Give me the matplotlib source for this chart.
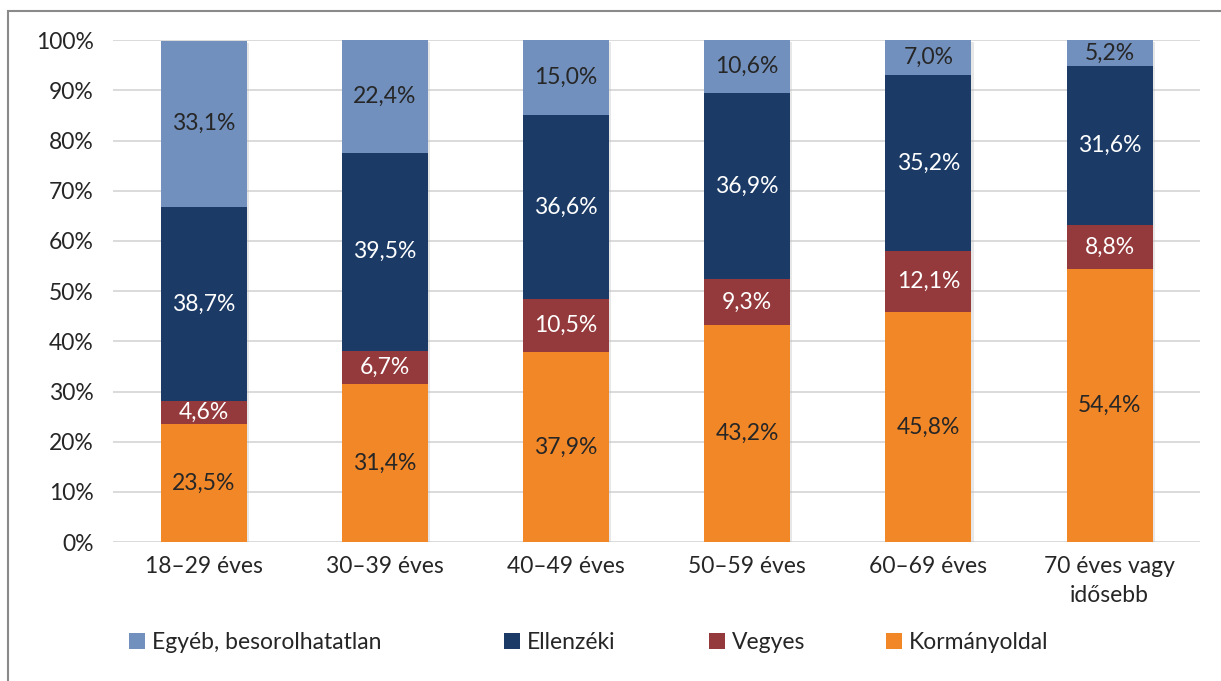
import matplotlib
matplotlib.use("Agg")
import matplotlib.pyplot as plt
from matplotlib.patches import Rectangle
import numpy as np

plt.rcParams['font.family'] = ['Lato', 'DejaVu Sans']

categories = ["18–29 éves", "30–39 éves", "40–49 éves", "50–59 éves", "60–69 éves", "70 éves vagy\nidősebb"]
kormany = [23.5, 31.4, 37.9, 43.2, 45.8, 54.4]
vegyes = [4.6, 6.7, 10.5, 9.3, 12.1, 8.8]
ellenzeki = [38.7, 39.5, 36.6, 36.9, 35.2, 31.6]
egyeb = [33.1, 22.4, 15.0, 10.6, 7.0, 5.2]

series = [
    ("Kormányoldal", kormany, "#F28728", "#262626"),
    ("Vegyes", vegyes, "#953A3C", "white"),
    ("Ellenzéki", ellenzeki, "#1B3A65", "white"),
    ("Egyéb, besorolhatatlan", egyeb, "#7190BD", "#262626"),
]

FS = 16.5
fig = plt.figure(figsize=(12.21, 6.81), dpi=100)
ax = fig.add_axes([0.0925, 0.204, 0.8905, 0.737])

x = np.arange(len(categories))
width = 0.475
bottom = np.zeros(len(categories))
handles = {}
for name, vals, color, tcolor in series:
    vals = np.array(vals)
    ax.bar(x + 0.012, vals, width, bottom=bottom - 0.4, color="#bdbdbd", alpha=0.35, zorder=2, linewidth=0)
    bars = ax.bar(x, vals, width, bottom=bottom, color=color, zorder=3, linewidth=0, label=name)
    handles[name] = bars
    for xi, b, v in zip(x, bottom, vals):
        ax.text(xi, b + v / 2, f"{v:.1f}%".replace(".", ","), ha="center", va="center",
                color=tcolor, fontsize=FS, zorder=4)
    bottom = bottom + vals

ax.set_xlim(-0.5, len(categories) - 0.5)
ax.set_ylim(0, 100)
ax.set_yticks(np.arange(0, 101, 10))
ax.set_yticklabels([f"{v}%" for v in range(0, 101, 10)], fontsize=FS, color="#262626")
ax.set_xticks(x)
ax.set_xticklabels(categories, fontsize=FS, color="#262626", linespacing=1.45)
ax.tick_params(axis="both", length=0)
ax.tick_params(axis="x", pad=10)
ax.tick_params(axis="y", pad=14)
ax.yaxis.grid(True, color="#d4d4d4", linewidth=1.2, zorder=0)
ax.set_axisbelow(True)
for s in ax.spines.values():
    s.set_visible(False)

order = ["Egyéb, besorolhatatlan", "Ellenzéki", "Vegyes", "Kormányoldal"]
leg_x = [129, 504, 709, 886]
for name, px in zip(order, leg_x):
    leg = fig.legend([handles[name]], [name], loc="center left",
                     bbox_to_anchor=(px / 1221, 0.056), frameon=False, fontsize=FS,
                     handlelength=0.7, handleheight=0.7, handletextpad=0.3, borderpad=0, borderaxespad=0)
    for t in leg.get_texts():
        t.set_color("#262626")

fig.patches.append(Rectangle((8 / 1221, -0.1), 1.2, 1 - 11 / 681 + 0.1, transform=fig.transFigure,
                             fill=False, edgecolor="#8a8a8a", linewidth=1.5))

fig.savefig("out.png", dpi=100)
